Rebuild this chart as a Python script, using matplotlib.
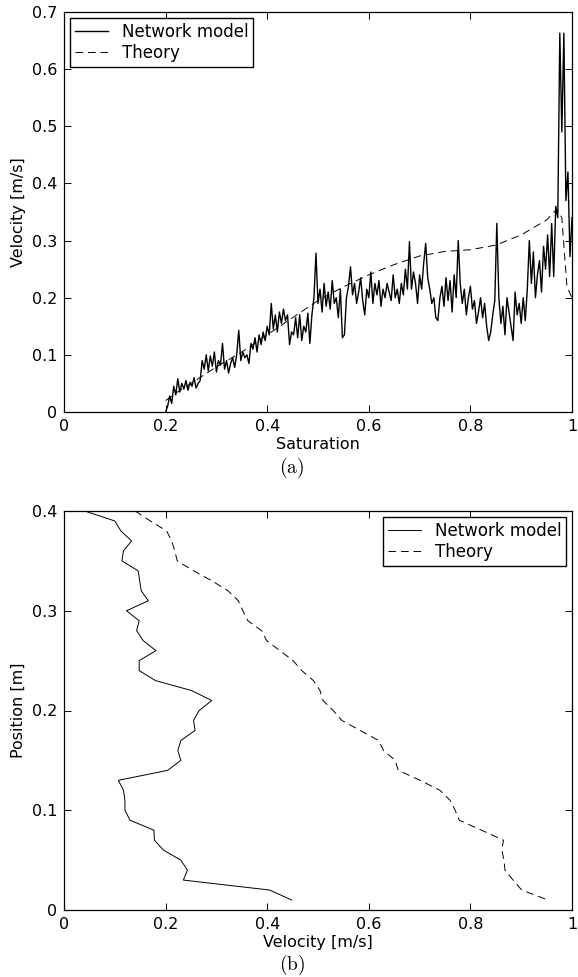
import numpy as np
import matplotlib
matplotlib.use("Agg")
import matplotlib.pyplot as plt

plt.rcParams['font.family'] = ['DejaVu Sans']
plt.rcParams['font.size'] = 11.5
plt.rcParams['mathtext.fontset'] = 'cm'
plt.rcParams['lines.scale_dashes'] = False

# (a) velocity vs saturation, network model sampled every 0.004 from 0.2 to 1.0
net_v = [
    0.0, 0.01, 0.028, 0.015, 0.045, 0.03, 0.058, 0.035, 0.05, 0.04,
    0.055, 0.038, 0.052, 0.045, 0.06, 0.042, 0.05, 0.055, 0.09, 0.075,
    0.1, 0.072, 0.098, 0.08, 0.105, 0.07, 0.09, 0.082, 0.12, 0.075,
    0.09, 0.068, 0.085, 0.095, 0.078, 0.1, 0.143, 0.09, 0.105, 0.095,
    0.1, 0.085, 0.12, 0.11, 0.13, 0.105, 0.135, 0.118, 0.14, 0.125,
    0.15, 0.135, 0.19, 0.145, 0.17, 0.14, 0.175, 0.155, 0.18, 0.16,
    0.17, 0.118, 0.14, 0.135, 0.165, 0.13, 0.17, 0.125, 0.15, 0.14,
    0.173, 0.12, 0.17, 0.2, 0.278, 0.19, 0.215, 0.175, 0.225, 0.185,
    0.21, 0.18, 0.23, 0.19, 0.2, 0.165, 0.215, 0.13, 0.135, 0.2,
    0.22, 0.254, 0.205, 0.225, 0.19, 0.21, 0.235, 0.195, 0.17, 0.215,
    0.2, 0.245, 0.19, 0.225, 0.205, 0.23, 0.185, 0.215, 0.2, 0.225,
    0.21, 0.195, 0.24, 0.2, 0.215, 0.19, 0.225, 0.205, 0.25, 0.215,
    0.298, 0.215, 0.245, 0.225, 0.19, 0.24, 0.215, 0.26, 0.295, 0.235,
    0.215, 0.19, 0.2, 0.165, 0.16, 0.2, 0.22, 0.185, 0.235, 0.195,
    0.23, 0.175, 0.24, 0.2, 0.3, 0.225, 0.19, 0.215, 0.17, 0.2,
    0.22, 0.18, 0.195, 0.155, 0.175, 0.2, 0.165, 0.19, 0.15, 0.125,
    0.14, 0.17, 0.195, 0.33, 0.2, 0.155, 0.185, 0.135, 0.2, 0.175,
    0.15, 0.125, 0.21, 0.17, 0.19, 0.155, 0.2, 0.16, 0.215, 0.3,
    0.225, 0.28, 0.2, 0.24, 0.265, 0.21, 0.29, 0.25, 0.31, 0.237,
    0.33, 0.237, 0.36, 0.34, 0.663, 0.49, 0.663, 0.37, 0.42, 0.272, 0.34,
]
net_s = np.linspace(0.2, 1.0, len(net_v))

theory_s = [0.2, 0.22, 0.25, 0.3, 0.35, 0.4, 0.45, 0.5, 0.55, 0.6, 0.65,
            0.7, 0.75, 0.8, 0.85, 0.9, 0.95, 0.97, 0.98, 0.99, 1.0]
theory_v = [0.02, 0.033, 0.05, 0.079, 0.105, 0.135, 0.165, 0.195, 0.219, 0.24, 0.258,
            0.273, 0.281, 0.284, 0.292, 0.31, 0.336, 0.355, 0.34, 0.22, 0.2]

# (b) position vs velocity, positions 0.40 down to 0.01
pos = [0.40, 0.39, 0.38, 0.37, 0.36, 0.35, 0.34, 0.33, 0.32, 0.31,
       0.30, 0.29, 0.28, 0.27, 0.26, 0.25, 0.24, 0.23, 0.22, 0.21,
       0.20, 0.19, 0.18, 0.17, 0.16, 0.15, 0.14, 0.13, 0.12, 0.11,
       0.10, 0.09, 0.08, 0.07, 0.06, 0.05, 0.04, 0.03, 0.02, 0.01]
vel_net = [0.041, 0.10, 0.112, 0.133, 0.117, 0.114, 0.146, 0.149, 0.152, 0.166,
           0.123, 0.148, 0.143, 0.156, 0.181, 0.148, 0.148, 0.180, 0.251, 0.291,
           0.266, 0.255, 0.258, 0.230, 0.224, 0.230, 0.204, 0.107, 0.117, 0.12,
           0.12, 0.13, 0.177, 0.178, 0.196, 0.23, 0.243, 0.235, 0.405, 0.448]
vel_theory = [0.140, 0.17, 0.202, 0.212, 0.218, 0.223, 0.255, 0.291, 0.323, 0.343,
              0.352, 0.362, 0.389, 0.399, 0.425, 0.451, 0.468, 0.491, 0.504, 0.510,
              0.530, 0.547, 0.583, 0.619, 0.629, 0.652, 0.658, 0.701, 0.740, 0.760,
              0.770, 0.778, 0.822, 0.865, 0.862, 0.866, 0.868, 0.884, 0.901, 0.953]

fig = plt.figure(figsize=(5.78, 9.77), dpi=100)
ax1 = fig.add_axes([64/578, 1-412/977, 508/578, 400/977])
ax2 = fig.add_axes([64/578, 1-910/977, 508/578, 399/977])

dash = (5.5, 3.5)

ax1.plot(net_s, net_v, 'k-', lw=1.0, label='Network model')
ax1.plot(theory_s, theory_v, 'k--', lw=0.7, dashes=dash, label='Theory')
ax1.set_xlim(0, 1)
ax1.set_ylim(0, 0.7)
ax1.set_xticks([0, 0.2, 0.4, 0.6, 0.8, 1])
ax1.set_xticklabels(['0', '0.2', '0.4', '0.6', '0.8', '1'])
ax1.set_yticks([0, 0.1, 0.2, 0.3, 0.4, 0.5, 0.6, 0.7])
ax1.set_yticklabels(['0', '0.1', '0.2', '0.3', '0.4', '0.5', '0.6', '0.7'])
ax1.set_xlabel('Saturation', labelpad=2)
ax1.set_ylabel('Velocity [m/s]')
ax1.legend(loc='upper left', fancybox=False, edgecolor='k', framealpha=1,
           borderaxespad=0.35, handlelength=2.0, borderpad=0.3, labelspacing=0.2,
           fontsize=12)

ax2.plot(vel_net, pos, 'k-', lw=0.7, label='Network model')
ax2.plot(vel_theory, pos, 'k--', lw=0.7, dashes=dash, label='Theory')
ax2.set_xlim(0, 1)
ax2.set_ylim(0, 0.4)
ax2.set_xticks([0, 0.2, 0.4, 0.6, 0.8, 1])
ax2.set_xticklabels(['0', '0.2', '0.4', '0.6', '0.8', '1'])
ax2.set_yticks([0, 0.1, 0.2, 0.3, 0.4])
ax2.set_yticklabels(['0', '0.1', '0.2', '0.3', '0.4'])
ax2.set_xlabel('Velocity [m/s]', labelpad=2)
ax2.set_ylabel('Position [m]')
ax2.legend(loc='upper right', fancybox=False, edgecolor='k', framealpha=1,
           borderaxespad=0.35, handlelength=2.0, borderpad=0.3, labelspacing=0.2,
           fontsize=12)

for ax in (ax1, ax2):
    ax.tick_params(direction='in', top=True, right=True, length=5, width=0.7, pad=5)
    for sp in ax.spines.values():
        sp.set_linewidth(0.9)

fig.text(292/578, 1-468/977, r'$\mathrm{(a)}$', ha='center', va='center', fontsize=14)
fig.text(292/578, 1-965/977, r'$\mathrm{(b)}$', ha='center', va='center', fontsize=14)

fig.savefig('out.png', dpi=100)
